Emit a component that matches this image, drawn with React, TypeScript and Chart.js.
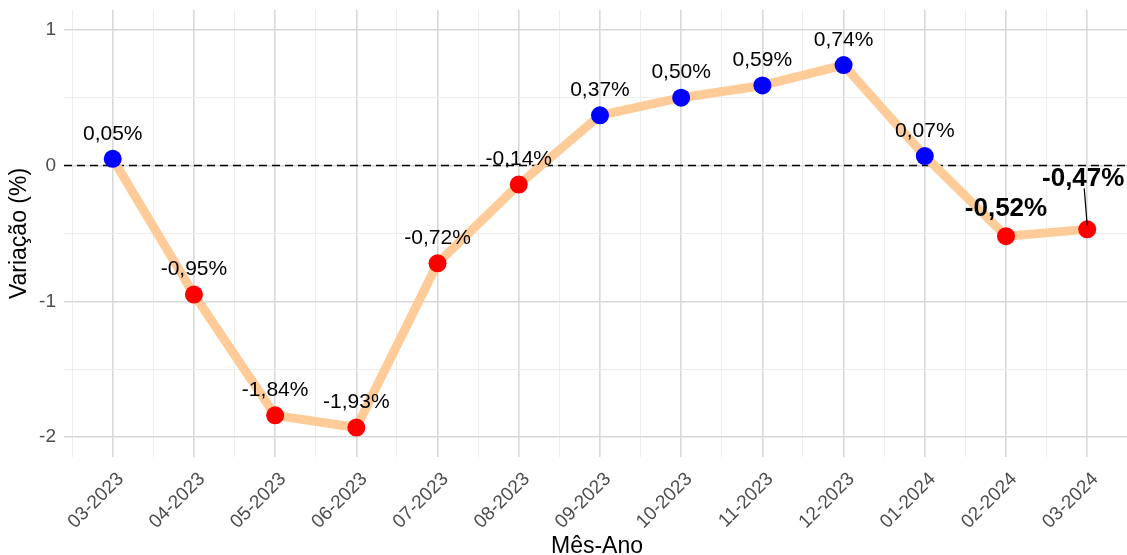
import React, { useEffect, useRef } from "react";
import { Chart, registerables } from "chart.js";

Chart.register(...registerables);

const categories = [
  "03-2023", "04-2023", "05-2023", "06-2023", "07-2023", "08-2023", "09-2023",
  "10-2023", "11-2023", "12-2023", "01-2024", "02-2024", "03-2024",
];
const values = [0.05, -0.95, -1.84, -1.93, -0.72, -0.14, 0.37, 0.5, 0.59, 0.74, 0.07, -0.52, -0.47];
const highlighted = ["02-2024", "03-2024"];
const yMajorTicks = [-2, -1, 0, 1];
const yMinorTicks = [-1.5, -0.5, 0.5];
const yTitle = "Variação (%)";
const xTitle = "Mês-Ano";

const FONT = "'Liberation Sans', Arial, Helvetica, sans-serif";

const fmt = (v: number) => v.toFixed(2).replace(".", ",") + "%";

const overlayPlugin = {
  id: "overlay",
  beforeDatasetsDraw(chart: any) {
    const { ctx, chartArea, scales } = chart;
    const y0 = scales.y.getPixelForValue(0);
    ctx.save();
    ctx.strokeStyle = "#000";
    ctx.lineWidth = 1.4;
    ctx.setLineDash([8, 5]);
    ctx.beginPath();
    ctx.moveTo(chartArea.left, y0);
    ctx.lineTo(chartArea.right, y0);
    ctx.stroke();
    ctx.restore();
  },
  afterDatasetsDraw(chart: any) {
    const { ctx } = chart;
    const meta = chart.getDatasetMeta(0);
    ctx.save();
    ctx.fillStyle = "#000";
    ctx.textAlign = "center";
    ctx.textBaseline = "middle";
    meta.data.forEach((pt: any, i: number) => {
      const label = fmt(values[i]);
      const isHi = highlighted.includes(categories[i]);
      if (!isHi) {
        ctx.font = `21px ${FONT}`;
        ctx.fillText(label, pt.x, pt.y - 25);
      } else if (i === categories.length - 1) {
        ctx.strokeStyle = "#000";
        ctx.lineWidth = 1.2;
        ctx.beginPath();
        ctx.moveTo(pt.x, pt.y - 4);
        ctx.lineTo(pt.x - 3, pt.y - 41);
        ctx.stroke();
        ctx.font = `bold 26px ${FONT}`;
        ctx.fillText(label, pt.x - 4, pt.y - 51);
      } else {
        ctx.font = `bold 26px ${FONT}`;
        ctx.fillText(label, pt.x, pt.y - 27);
      }
    });
    ctx.restore();
  },
  afterDraw(chart: any) {
    const { ctx, chartArea } = chart;
    ctx.save();
    ctx.fillStyle = "#000";
    ctx.font = `23px ${FONT}`;
    ctx.textAlign = "center";
    ctx.textBaseline = "alphabetic";
    ctx.fillText(xTitle, 597, 553);
    ctx.translate(20, (chartArea.top + chartArea.bottom) / 2);
    ctx.rotate(-Math.PI / 2);
    ctx.textBaseline = "middle";
    ctx.fillText(yTitle, 0, 0);
    ctx.restore();
  },
};

export default function App() {
  const canvasRef = useRef<HTMLCanvasElement | null>(null);

  useEffect(() => {
    if (!canvasRef.current) return;
    const chart = new Chart(canvasRef.current, {
      type: "line",
      data: {
        datasets: [
          {
            data: values.map((v, i) => ({ x: i, y: v })),
            borderColor: "#FFCC99",
            borderWidth: 9,
            borderJoinStyle: "round",
            borderCapStyle: "round",
            pointRadius: 9,
            pointHoverRadius: 9,
            pointBorderWidth: 0,
            pointBackgroundColor: values.map((v) => (v >= 0 ? "#0000FF" : "#FF0000")),
            tension: 0,
          },
        ],
      },
      options: {
        animation: false,
        responsive: false,
        events: [],
        layout: { autoPadding: false, padding: { top: 10, right: 0, left: 0, bottom: 0 } },
        plugins: { legend: { display: false }, tooltip: { enabled: false } },
        scales: {
          x: {
            type: "linear",
            min: -0.6,
            max: 12.49,
            afterBuildTicks: (scale: any) => {
              const t = [];
              for (let v = -0.5; v <= 12.01; v += 0.5) t.push({ value: Math.round(v * 2) / 2 });
              scale.ticks = t;
            },
            afterFit: (scale: any) => {
              scale.height = 98;
              scale.paddingLeft = 0;
              scale.paddingRight = 0;
              scale.paddingTop = 0;
              scale.paddingBottom = 0;
            },
            border: { display: false },
            grid: {
              drawTicks: false,
              color: (c: any) => (Number.isInteger(c.tick?.value) ? "#d9d9d9" : "#ededed"),
              lineWidth: (c: any) => (Number.isInteger(c.tick?.value) ? 1.6 : 1),
            },
            ticks: {
              autoSkip: false,
              maxRotation: 45,
              minRotation: 45,
              padding: 11,
              labelOffset: 8,
              color: "#4d4d4d",
              font: { family: FONT, size: 19 },
              callback: (v: any) => (Number.isInteger(v) ? categories[v] ?? "" : ""),
            },
          },
          y: {
            type: "linear",
            min: -2.147,
            max: 1.146,
            afterBuildTicks: (scale: any) => {
              scale.ticks = [...yMajorTicks, ...yMinorTicks]
                .sort((a, b) => a - b)
                .map((value) => ({ value }));
            },
            afterFit: (scale: any) => {
              scale.width = 64;
              scale.paddingLeft = 0;
              scale.paddingRight = 0;
              scale.paddingTop = 0;
              scale.paddingBottom = 0;
            },
            border: { display: false },
            grid: {
              drawTicks: false,
              color: (c: any) => (Number.isInteger(c.tick?.value) ? "#d9d9d9" : "#ededed"),
              lineWidth: (c: any) => (Number.isInteger(c.tick?.value) ? 1.6 : 1),
            },
            ticks: {
              padding: 8,
              color: "#4d4d4d",
              font: { family: FONT, size: 19 },
              callback: (v: any) => (Number.isInteger(v) ? String(v) : ""),
            },
          },
        },
      },
      plugins: [overlayPlugin],
    } as any);
    return () => chart.destroy();
  }, []);

  return (
    <div style={{ position: "fixed", left: 0, top: 0, width: 1127, height: 555, background: "#fff" }}>
      <canvas ref={canvasRef} width={1127} height={555} style={{ display: "block" }} />
    </div>
  );
}
